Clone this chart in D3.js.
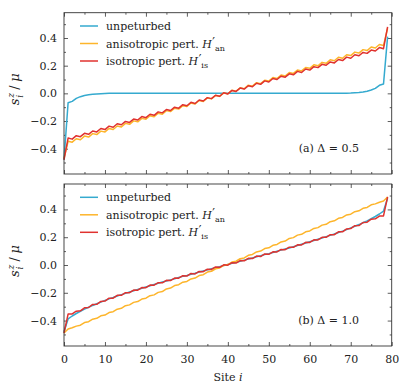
<!DOCTYPE html>
<html>
<head>
<meta charset="utf-8">
<script src="https://cdn.jsdelivr.net/npm/d3@7"></script>
<style>
  body { margin: 0; background: #fff; }
  svg { display: block; font-family: "DejaVu Serif", serif; }
</style>
</head>
<body>
<div id="chart"></div>
<script>
"use strict";

// site i = array index (0..79)
var unpertA = [-0.48, -0.068, -0.058, -0.036, -0.024, -0.015, -0.010, -0.006, -0.004, -0.002, -0.001,
  0, 0, 0, 0, 0, 0, 0, 0, 0, 0,
  0, 0, 0, 0, 0, 0, 0, 0, 0, 0,
  0, 0, 0, 0, 0, 0, 0, 0, 0, 0,
  0, 0, 0, 0, 0, 0, 0, 0, 0, 0,
  0, 0, 0, 0, 0, 0, 0, 0, 0, 0,
  0, 0, 0, 0, 0, 0, 0, 0,
  0.001, 0.002, 0.004, 0.006, 0.010, 0.015, 0.024, 0.036, 0.058, 0.068, 0.41];

var anisoA = [-0.47,
  -0.346, -0.353, -0.328, -0.335, -0.309, -0.316, -0.291, -0.298, -0.273, -0.279,
  -0.254, -0.261, -0.236, -0.243, -0.217, -0.224, -0.199, -0.206, -0.181, -0.187,
  -0.162, -0.169, -0.144, -0.151, -0.125, -0.132, -0.107, -0.114, -0.089, -0.095,
  -0.070, -0.077, -0.052, -0.059, -0.033, -0.040, -0.015, -0.022, 0.003, -0.003,
  0.022, 0.015, 0.040, 0.033, 0.059, 0.052, 0.077, 0.070, 0.095, 0.089,
  0.114, 0.107, 0.132, 0.125, 0.151, 0.144, 0.169, 0.162, 0.187, 0.181,
  0.206, 0.199, 0.224, 0.217, 0.243, 0.236, 0.261, 0.254, 0.279, 0.273,
  0.298, 0.291, 0.316, 0.309, 0.335, 0.328, 0.353, 0.346,
  0.47];

var isoA = [-0.48,
  -0.323, -0.331, -0.306, -0.313, -0.289, -0.296, -0.272, -0.279, -0.254, -0.262,
  -0.237, -0.245, -0.220, -0.227, -0.203, -0.210, -0.186, -0.193, -0.168, -0.176,
  -0.151, -0.159, -0.134, -0.141, -0.117, -0.124, -0.100, -0.107, -0.082, -0.090,
  -0.065, -0.073, -0.048, -0.055, -0.031, -0.038, -0.014, -0.021, 0.004, -0.004,
  0.021, 0.014, 0.038, 0.031, 0.055, 0.048, 0.073, 0.065, 0.090, 0.082,
  0.107, 0.100, 0.124, 0.117, 0.141, 0.134, 0.159, 0.151, 0.176, 0.168,
  0.193, 0.186, 0.210, 0.203, 0.227, 0.220, 0.245, 0.237, 0.262, 0.254,
  0.279, 0.272, 0.296, 0.289, 0.313, 0.306, 0.331, 0.323,
  0.48];

var unpertB = [-0.48,
  -0.388, -0.367, -0.349, -0.333, -0.318, -0.304, -0.291, -0.279, -0.267, -0.255,
  -0.244, -0.234, -0.223, -0.213, -0.204, -0.194, -0.185, -0.176, -0.167, -0.158,
  -0.149, -0.140, -0.132, -0.123, -0.115, -0.107, -0.099, -0.090, -0.082, -0.075,
  -0.066, -0.059, -0.051, -0.043, -0.035, -0.027, -0.019, -0.012, -0.004,
  0.004, 0.012, 0.019, 0.027, 0.035, 0.043, 0.051, 0.059, 0.066, 0.075,
  0.082, 0.090, 0.099, 0.107, 0.115, 0.123, 0.132, 0.140, 0.149, 0.158,
  0.167, 0.176, 0.185, 0.194, 0.204, 0.213, 0.223, 0.234, 0.244, 0.255,
  0.267, 0.279, 0.291, 0.304, 0.318, 0.333, 0.349, 0.367, 0.388,
  0.48];

var anisoB = [-0.49, -0.460, -0.452, -0.440,
  -0.433, -0.414, -0.408, -0.390, -0.384, -0.366, -0.360, -0.342, -0.336, -0.318,
  -0.312, -0.293, -0.287, -0.269, -0.263, -0.245, -0.239, -0.221, -0.215, -0.197,
  -0.191, -0.172, -0.166, -0.148, -0.142, -0.124, -0.118, -0.100, -0.094, -0.076,
  -0.070, -0.051, -0.045, -0.027, -0.021, -0.003,
  0.003, 0.021, 0.027, 0.045, 0.051, 0.070, 0.076, 0.094, 0.100, 0.118,
  0.124, 0.142, 0.148, 0.166, 0.172, 0.191, 0.197, 0.215, 0.221, 0.239,
  0.245, 0.263, 0.269, 0.287, 0.293, 0.312, 0.318, 0.336, 0.342, 0.360,
  0.366, 0.384, 0.390, 0.408, 0.414, 0.433,
  0.440, 0.452, 0.460, 0.49];

var isoB = [-0.49,
  -0.353, -0.352, -0.332, -0.330, -0.308, -0.306, -0.284, -0.283, -0.262, -0.260,
  -0.239, -0.239, -0.218, -0.218, -0.199, -0.199, -0.180, -0.181, -0.162, -0.163,
  -0.144, -0.145, -0.127, -0.128, -0.110, -0.112, -0.094, -0.095, -0.077, -0.080,
  -0.061, -0.064, -0.046, -0.048, -0.030, -0.032, -0.014, -0.017, 0.001,
  -0.001, 0.017, 0.014, 0.032, 0.030, 0.048, 0.046, 0.064, 0.061, 0.080,
  0.077, 0.095, 0.094, 0.112, 0.110, 0.128, 0.127, 0.145, 0.144, 0.163,
  0.162, 0.181, 0.180, 0.199, 0.199, 0.218, 0.218, 0.239, 0.239, 0.260,
  0.262, 0.283, 0.284, 0.306, 0.308, 0.330, 0.332, 0.352, 0.353,
  0.49];

var xTicks = [0, 10, 20, 30, 40, 50, 60, 70, 80];
var xMinor = [5, 15, 25, 35, 45, 55, 65, 75];
var yTicks = [-0.4, -0.2, 0.0, 0.2, 0.4];
var yMinor = [-0.5, -0.3, -0.1, 0.1, 0.3, 0.5];
var panelLabels = ["(a) \u0394 = 0.5", "(b) \u0394 = 1.0"];

(function (d3) {
  var width = 415, height = 389;
  var colors = { unpert: "#35aacf", aniso: "#fdb52b", iso: "#e0322f" };
  var frameColor = "#333";

  var svg = d3.select("#chart").append("svg")
    .attr("width", width).attr("height", height);

  var x = d3.scaleLinear().domain([0, 80]).range([64, 391.7]);

  var panels = [
    { top: 12.7, bottom: 174, series: [unpertA, anisoA, isoA], label: panelLabels[0], showX: false },
    { top: 184, bottom: 346, series: [unpertB, anisoB, isoB], label: panelLabels[1], showX: true }
  ];
  var seriesColors = [colors.unpert, colors.aniso, colors.iso];

  function styleAxis(g) {
    g.selectAll(".domain").remove();
    g.selectAll(".tick line").attr("stroke", frameColor).attr("stroke-width", 0.8);
    g.selectAll(".tick text").attr("fill", "#222").style("font-size", "11px")
      .style("font-family", "DejaVu Serif, serif");
  }

  panels.forEach(function (p) {
    var y = d3.scaleLinear().domain([-0.583, 0.583]).range([p.bottom, p.top]);
    var g = svg.append("g");
    var fmt = d3.format(".1f");

    // y axes (left labelled, right bare), ticks inward
    g.append("g").attr("transform", "translate(64,0)")
      .call(d3.axisLeft(y).tickValues(yTicks).tickSize(-4).tickPadding(7).tickFormat(fmt))
      .call(styleAxis);
    g.append("g").attr("transform", "translate(64,0)")
      .call(d3.axisLeft(y).tickValues(yMinor).tickSize(-2).tickFormat(""))
      .call(styleAxis);
    g.append("g").attr("transform", "translate(391.7,0)")
      .call(d3.axisRight(y).tickValues(yTicks).tickSize(-4).tickFormat(""))
      .call(styleAxis);
    g.append("g").attr("transform", "translate(391.7,0)")
      .call(d3.axisRight(y).tickValues(yMinor).tickSize(-2).tickFormat(""))
      .call(styleAxis);

    // x axes
    g.append("g").attr("transform", "translate(0," + p.bottom + ")")
      .call(d3.axisBottom(x).tickValues(xTicks).tickSize(-4).tickPadding(9)
        .tickFormat(p.showX ? d3.format("d") : ""))
      .call(styleAxis);
    g.append("g").attr("transform", "translate(0," + p.bottom + ")")
      .call(d3.axisBottom(x).tickValues(xMinor).tickSize(-2).tickFormat(""))
      .call(styleAxis);
    g.append("g").attr("transform", "translate(0," + p.top + ")")
      .call(d3.axisTop(x).tickValues(xTicks).tickSize(-4).tickFormat(""))
      .call(styleAxis);
    g.append("g").attr("transform", "translate(0," + p.top + ")")
      .call(d3.axisTop(x).tickValues(xMinor).tickSize(-2).tickFormat(""))
      .call(styleAxis);

    // curves
    var line = d3.line()
      .x(function (d, i) { return x(i); })
      .y(function (d) { return y(d); });
    p.series.forEach(function (s, k) {
      g.append("path").datum(s)
        .attr("d", line)
        .attr("fill", "none")
        .attr("stroke", seriesColors[k])
        .attr("stroke-width", 1.5)
        .attr("stroke-linejoin", "round");
    });

    // frame
    g.append("rect")
      .attr("x", 64).attr("y", p.top)
      .attr("width", 391.7 - 64).attr("height", p.bottom - p.top)
      .attr("fill", "none").attr("stroke", frameColor).attr("stroke-width", 0.9);

    // legend
    var legendY = p.top + 13.3;
    var entries = [
      { c: colors.unpert, t: "unpeturbed", sub: null },
      { c: colors.aniso, t: "anisotropic pert. ", sub: "an" },
      { c: colors.iso, t: "isotropic pert. ", sub: "is" }
    ];
    entries.forEach(function (e, k) {
      var ly = legendY + k * 17.5;
      g.append("line")
        .attr("x1", 80).attr("x2", 98).attr("y1", ly).attr("y2", ly)
        .attr("stroke", e.c).attr("stroke-width", 1.5);
      var t = g.append("text")
        .attr("x", 106).attr("y", ly + 4)
        .attr("fill", "#222").style("font-size", "11px")
        .text(e.t);
      if (e.sub) {
        t.append("tspan").style("font-style", "italic").text("H");
        t.append("tspan").attr("dx", 0.5).attr("dy", -1).style("font-size", "12px").text("\u2032");
        t.append("tspan").attr("dy", 4).style("font-size", "8px").text(e.sub);
      }
    });

    // panel annotation
    g.append("text")
      .attr("x", 359).attr("y", p.bottom - 22)
      .attr("text-anchor", "end")
      .attr("fill", "#222").style("font-size", "11px")
      .text(p.label);

    // y label s_i^z / mu
    var cy = (p.top + p.bottom) / 2 - 6;
    var yl = g.append("g").attr("transform", "translate(19," + cy + ") rotate(-90)")
      .attr("fill", "#222");
    yl.append("text").attr("x", -18).attr("y", 0).style("font-size", "13px")
      .style("font-style", "italic").text("s");
    yl.append("text").attr("x", -10.5).attr("y", -5.5).style("font-size", "9px")
      .style("font-style", "italic").text("z");
    yl.append("text").attr("x", -10.5).attr("y", 3.5).style("font-size", "9px")
      .style("font-style", "italic").text("i");
    yl.append("text").attr("x", -2.5).attr("y", 0).style("font-size", "13px")
      .text("/");
    yl.append("text").attr("x", 5.5).attr("y", 0).style("font-size", "13px")
      .style("font-style", "italic").text("\u03bc");
  });

  // x label
  var xl = svg.append("text")
    .attr("x", 228).attr("y", 381)
    .attr("text-anchor", "middle")
    .attr("fill", "#222").style("font-size", "11px")
    .text("Site ");
  xl.append("tspan").style("font-style", "italic").text("i");
})(d3);
</script>
</body>
</html>
